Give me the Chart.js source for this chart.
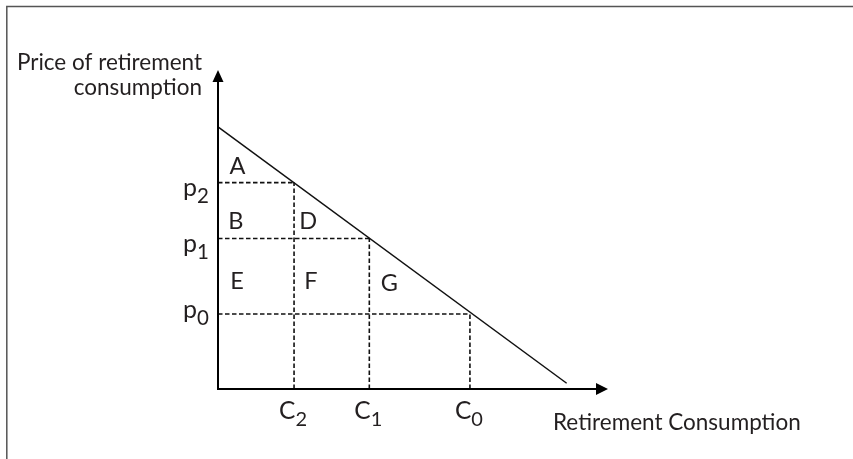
<!DOCTYPE html>
<html><head><meta charset="utf-8">
<script src="https://cdn.jsdelivr.net/npm/chart.js@4"></script>
<style>html,body{margin:0;padding:0;background:#fff}#wrap{width:853px;height:459px;position:relative}</style>
</head><body><div id="wrap"><canvas id="c" width="853" height="459"></canvas></div>
<script>
// ---- data ----
const quantityBase = ['C', 'C', 'C'];
const quantitySub = ['2', '1', '0'];
const quantities = [19.5, 38.8, 64.6];
const priceBase = ['p', 'p', 'p'];
const priceSub = ['2', '1', '0'];
const prices = [64.7, 47.2, 23.5];
const demandX = [0, 89.4];
const demandY = [82.2, 1.8];
const regionNames = ['A', 'B', 'D', 'E', 'F', 'G'];
const regionX = [5.0, 4.6, 23.1, 4.9, 23.8, 43.9];
const regionY = [70.0, 52.8, 52.8, 33.9, 33.9, 33.2];
const xAxisTitle = 'Retirement Consumption';
const yAxisTitle = ['Price of retirement', 'consumption'];

// ---- layout / style ----
const FONT = 'Lato, "Open Sans", sans-serif';
const TEXT = '#231f20';
const priceLabelDy = [2.3, 1.7, -7.3];

const datasets = [];
datasets.push({
  data: demandX.map((x, i) => ({x, y: demandY[i]})),
  borderColor: '#111', borderWidth: 1.5, pointRadius: 0, clip: false
});
quantities.forEach((q, i) => {
  datasets.push({
    data: [{x: 0, y: prices[i]}, {x: q, y: prices[i]}],
    borderColor: '#111', borderWidth: 1.6, borderDash: [4.5, 2.5], pointRadius: 0, clip: false
  });
  datasets.push({
    data: [{x: q, y: 0}, {x: q, y: prices[i]}],
    borderColor: '#111', borderWidth: 1.6, borderDash: [4.5, 2.5], pointRadius: 0, clip: false
  });
});

function drawSub(ctx, base, sub, x, baseY, subY, align, mainPx, subPx) {
  ctx.font = mainPx + 'px ' + FONT;
  const wb = ctx.measureText(base).width;
  ctx.font = subPx + 'px ' + FONT;
  const ws = ctx.measureText(sub).width;
  const total = wb + ws;
  let x0 = x;
  if (align === 'center') x0 = x - total / 2;
  else if (align === 'right') x0 = x - total;
  ctx.textAlign = 'left';
  ctx.textBaseline = 'alphabetic';
  ctx.font = mainPx + 'px ' + FONT;
  ctx.fillText(base, x0, baseY);
  ctx.font = subPx + 'px ' + FONT;
  ctx.fillText(sub, x0 + wb, subY);
}

const decor = {
  id: 'decor',
  afterDraw(chart) {
    const ctx = chart.ctx;
    const xs = chart.scales.x, ys = chart.scales.y;
    const x0 = xs.getPixelForValue(0), y0 = ys.getPixelForValue(0);
    const xEnd = xs.getPixelForValue(xs.max), yEnd = ys.getPixelForValue(ys.max);
    ctx.save();
    // frame (top and left)
    ctx.strokeStyle = '#555';
    ctx.lineWidth = 1.5;
    ctx.beginPath();
    ctx.moveTo(6.8, 459); ctx.lineTo(6.8, 6.5); ctx.lineTo(853, 6.5);
    ctx.stroke();
    // axes
    ctx.strokeStyle = '#000';
    ctx.lineWidth = 2;
    ctx.beginPath();
    ctx.moveTo(x0, y0); ctx.lineTo(x0, yEnd + 8);
    ctx.moveTo(x0 - 1, y0); ctx.lineTo(xEnd - 8, y0);
    ctx.stroke();
    ctx.fillStyle = '#000';
    ctx.beginPath();
    ctx.moveTo(x0, yEnd); ctx.lineTo(x0 - 5.5, yEnd + 12); ctx.lineTo(x0 + 5.5, yEnd + 12); ctx.closePath();
    ctx.fill();
    ctx.beginPath();
    ctx.moveTo(xEnd, y0); ctx.lineTo(xEnd - 12, y0 - 6); ctx.lineTo(xEnd - 12, y0 + 6); ctx.closePath();
    ctx.fill();
    // texts
    ctx.fillStyle = TEXT;
    quantities.forEach((q, i) => {
      const px = xs.getPixelForValue(q);
      drawSub(ctx, quantityBase[i], quantitySub[i], px - 1, y0 + 29.5, y0 + 36.5, 'center', 24.5, 20);
    });
    prices.forEach((p, i) => {
      const py = ys.getPixelForValue(p) + priceLabelDy[i];
      drawSub(ctx, priceBase[i], priceSub[i], x0 - 9, py + 11.5, py + 18.5, 'right', 25, 20.5);
    });
    ctx.font = '23.5px ' + FONT;
    ctx.textAlign = 'center';
    ctx.textBaseline = 'alphabetic';
    regionNames.forEach((n, i) => {
      ctx.fillText(n, xs.getPixelForValue(regionX[i]), ys.getPixelForValue(regionY[i]) + 8.3);
    });
    ctx.font = '22.5px ' + FONT;
    ctx.textAlign = 'right';
    ctx.fillText(yAxisTitle[0], x0 - 16, yEnd - 0.5);
    ctx.fillText(yAxisTitle[1], x0 - 16, yEnd + 25);
    ctx.textAlign = 'left';
    ctx.fillText(xAxisTitle, 553, y0 + 41);
    ctx.restore();
  }
};

new Chart(document.getElementById('c'), {
  type: 'line',
  data: { datasets },
  options: {
    responsive: false,
    animation: false,
    events: [],
    layout: { padding: { left: 218, top: 70, right: 245, bottom: 70 } },
    plugins: { legend: { display: false }, tooltip: { enabled: false } },
    scales: {
      x: { type: 'linear', min: 0, max: 100, display: false },
      y: { type: 'linear', min: 0, max: 100, display: false }
    }
  },
  plugins: [decor]
});
</script></body></html>
